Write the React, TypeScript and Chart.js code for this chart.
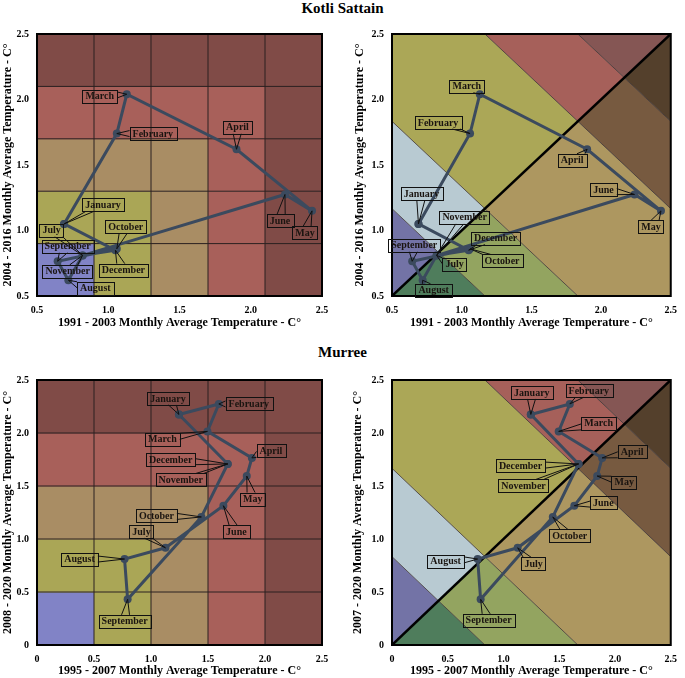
import React, { useEffect, useRef } from "react";
import { Chart, registerables } from "chart.js";
Chart.register(...registerables);

// ---------- data ----------
const MONTHS = ["January", "February", "March", "April", "May", "June", "July", "August", "September", "October", "November", "December"];

const KOTLI_X = [0.69, 1.06, 1.13, 1.90, 2.43, 2.24, 0.82, 0.72, 0.645, 1.06, 0.82, 1.05];
const KOTLI_Y = [1.05, 1.74, 2.04, 1.62, 1.15, 1.275, 0.81, 0.62, 0.765, 0.86, 0.81, 0.85];

const MURREE_X = [1.245, 1.595, 1.495, 1.885, 1.84, 1.635, 1.127, 0.768, 0.795, 1.442, 1.673, 1.673];
const MURREE_Y = [2.175, 2.274, 2.015, 1.765, 1.594, 1.314, 0.917, 0.811, 0.431, 1.208, 1.708, 1.708];

const KOTLI_TICKS = [0.5, 1, 1.5, 2, 2.5];
const MURREE_TICKS = [0, 0.5, 1, 1.5, 2, 2.5];
const KOTLI_GRID = [0.5, 0.9, 1.3, 1.7, 2.1, 2.5];
const MURREE_GRID = [0, 0.5, 1, 1.5, 2, 2.5];
const BAND_STOPS = [0, 1 / 6, 2 / 6, 4 / 6, 5 / 6, 1];

// ---------- styles ----------
const GRID_COLORS = ["#8183c6", "#aaa656", "#a98d64", "#a8605a", "#804b47"];
const UPPER_COLORS = ["#7373a6", "#b8cad2", "#aba757", "#a6605a", "#855654"];
const LOWER_COLORS = ["#4f7d5c", "#93a460", "#ad9760", "#775a40", "#54402c"];
const LINE_COLOR = "#3b4a5e";
const SERIF = '"Liberation Serif", "Times New Roman", serif';

const OFF_TL = [[39, -19], [36, 0], [-27, 2], [1, -22], [-7, 22], [-5, 26], [-31, -25], [27, 8], [10, -15], [9, -22], [-15, 16], [8, 20]];
const OFF_TR = [[3, -30], [-32, -11], [-13, -8], [-15, 11], [-10, 16], [-31, -5], [18, 9], [11, 10], [2, -16], [32, 12], [28, -38], [27, -12]];
const OFF_BL = [[-11, -16], [30, 0], [-45, 8], [19, -7], [6, 23], [13, 26], [-24, -16], [-45, 0], [-3, 22], [-45, -1], [-47, 16], [-57, -4]];
const OFF_BR = [[1, -22], [19, -13], [40, -8], [30, -6], [27, 6], [29, -3], [16, 16], [-32, 2], [8, 21], [17, 19], [-55, 22], [-58, 2]];

type Panel = {
  kind: "grid" | "band";
  xs: number[];
  ys: number[];
  min: number;
  max: number;
  ticks: number[];
  grid: number[];
  offsets: number[][];
  xTitle: string;
  yTitle: string;
  box: { left: number; top: number; width: number; height: number };
  pad: { left: number; top: number; right: number };
  yWidth: number;
  xHeight: number;
  yTitlePad: number;
  xTitlePad: number;
};

const PANELS: Panel[] = [
  {
    kind: "grid", xs: KOTLI_X, ys: KOTLI_Y, min: 0.5, max: 2.5, ticks: KOTLI_TICKS, grid: KOTLI_GRID, offsets: OFF_TL,
    xTitle: "1991 - 2003 Monthly Average Temperature - C°", yTitle: "2004 - 2016 Monthly Average Temperature - C°",
    box: { left: 0, top: 20, width: 342, height: 320 }, pad: { left: 0, top: 13, right: 20 }, yWidth: 37, xHeight: 44, yTitlePad: 1, xTitlePad: 10,
  },
  {
    kind: "band", xs: KOTLI_X, ys: KOTLI_Y, min: 0.5, max: 2.5, ticks: KOTLI_TICKS, grid: KOTLI_GRID, offsets: OFF_TR,
    xTitle: "1991 - 2003 Monthly Average Temperature - C°", yTitle: "2004 - 2016 Monthly Average Temperature - C°",
    box: { left: 343, top: 20, width: 342, height: 320 }, pad: { left: 0, top: 12, right: 10 }, yWidth: 49, xHeight: 44, yTitlePad: 10, xTitlePad: 10,
  },
  {
    kind: "grid", xs: MURREE_X, ys: MURREE_Y, min: 0, max: 2.5, ticks: MURREE_TICKS, grid: MURREE_GRID, offsets: OFF_BL,
    xTitle: "1995 - 2007 Monthly Average Temperature - C°", yTitle: "2008 - 2020 Monthly Average Temperature - C°",
    box: { left: 0, top: 345, width: 342, height: 333 }, pad: { left: 0, top: 35, right: 20 }, yWidth: 37, xHeight: 33, yTitlePad: 1, xTitlePad: 0,
  },
  {
    kind: "band", xs: MURREE_X, ys: MURREE_Y, min: 0, max: 2.5, ticks: MURREE_TICKS, grid: MURREE_GRID, offsets: OFF_BR,
    xTitle: "1995 - 2007 Monthly Average Temperature - C°", yTitle: "2007 - 2020 Monthly Average Temperature - C°",
    box: { left: 343, top: 345, width: 342, height: 333 }, pad: { left: 0, top: 35, right: 9 }, yWidth: 49, xHeight: 33, yTitlePad: 8, xTitlePad: 0,
  },
];

function drawBackground(chart: any, p: Panel) {
  const { ctx, chartArea: ca, scales } = chart;
  const xs = scales.x, ys = scales.y;
  const P = (vx: number, vy: number) => [xs.getPixelForValue(vx), ys.getPixelForValue(vy)];
  ctx.save();
  ctx.beginPath();
  ctx.rect(ca.left, ca.top, ca.right - ca.left, ca.bottom - ca.top);
  ctx.clip();
  if (p.kind === "grid") {
    const g = p.grid;
    for (let i = 0; i < g.length - 1; i++) {
      for (let j = 0; j < g.length - 1; j++) {
        const [x0, y0] = P(g[i], g[j]);
        const [x1, y1] = P(g[i + 1], g[j + 1]);
        ctx.fillStyle = GRID_COLORS[Math.max(i, j)];
        ctx.fillRect(Math.min(x0, x1), Math.min(y0, y1), Math.abs(x1 - x0) + 0.5, Math.abs(y1 - y0) + 0.5);
      }
    }
    ctx.strokeStyle = "#2a2020";
    ctx.lineWidth = 1;
    for (const v of g) {
      const [vx] = P(v, p.min);
      const [, vy] = P(p.min, v);
      ctx.beginPath();
      ctx.moveTo(vx, ca.top); ctx.lineTo(vx, ca.bottom);
      ctx.moveTo(ca.left, vy); ctx.lineTo(ca.right, vy);
      ctx.stroke();
    }
  } else {
    const a = p.min, b = p.max;
    const cs = BAND_STOPS.map((t) => 2 * (a + t * (b - a)));
    const sides = [
      { tri: [[a, a], [a, b], [b, b]], colors: UPPER_COLORS },
      { tri: [[a, a], [b, a], [b, b]], colors: LOWER_COLORS },
    ];
    for (const side of sides) {
      ctx.save();
      ctx.beginPath();
      side.tri.forEach(([vx, vy], k) => {
        const [px, py] = P(vx, vy);
        if (k === 0) ctx.moveTo(px, py); else ctx.lineTo(px, py);
      });
      ctx.closePath();
      ctx.clip();
      for (let k = 0; k < side.colors.length; k++) {
        const c1 = k === 0 ? cs[0] - 1 : cs[k];
        const c2 = k === side.colors.length - 1 ? cs[k + 1] + 1 : cs[k + 1];
        const pts = [[a - 2, c1 - a + 2], [b + 2, c1 - b - 2], [b + 2, c2 - b - 2], [a - 2, c2 - a + 2]];
        ctx.beginPath();
        pts.forEach(([vx, vy], q) => {
          const [px, py] = P(vx, vy);
          if (q === 0) ctx.moveTo(px, py); else ctx.lineTo(px, py);
        });
        ctx.closePath();
        ctx.fillStyle = side.colors[k];
        ctx.fill();
      }
      ctx.restore();
    }
    ctx.strokeStyle = "#3a3030";
    ctx.lineWidth = 0.8;
    for (let k = 1; k < cs.length - 1; k++) {
      const c = cs[k];
      const [x0, y0] = P(a - 2, c - a + 2);
      const [x1, y1] = P(b + 2, c - b - 2);
      ctx.beginPath();
      ctx.moveTo(x0, y0); ctx.lineTo(x1, y1);
      ctx.stroke();
    }
    const [d0x, d0y] = P(a, a);
    const [d1x, d1y] = P(b, b);
    ctx.strokeStyle = "#000";
    ctx.lineWidth = 2.5;
    ctx.beginPath();
    ctx.moveTo(d0x, d0y); ctx.lineTo(d1x, d1y);
    ctx.stroke();
  }
  ctx.restore();
  ctx.save();
  ctx.strokeStyle = "#000";
  ctx.lineWidth = 2;
  ctx.strokeRect(ca.left, ca.top, ca.right - ca.left, ca.bottom - ca.top);
  ctx.restore();
}

function drawLabels(chart: any, p: Panel) {
  const { ctx, scales } = chart;
  ctx.save();
  ctx.font = `bold 10px ${SERIF}`;
  ctx.textAlign = "center";
  ctx.textBaseline = "middle";
  ctx.strokeStyle = "#111";
  ctx.lineWidth = 1;
  for (let i = 0; i < MONTHS.length; i++) {
    const tx = scales.x.getPixelForValue(p.xs[i]);
    const ty = scales.y.getPixelForValue(p.ys[i]);
    const [dx, dy] = p.offsets[i];
    const cx = tx + dx, cy = ty + dy;
    const w = ctx.measureText(MONTHS[i]).width + 6;
    const h = 13;
    const hw = w / 2, hh = h / 2;
    ctx.strokeRect(Math.round(cx - hw) + 0.5, Math.round(cy - hh) + 0.5, Math.round(w), h);
    ctx.fillStyle = "#1a1410";
    ctx.fillText(MONTHS[i], cx, cy + 0.5);
    const ddx = tx - cx, ddy = ty - cy;
    if (Math.abs(ddx) > hw || Math.abs(ddy) > hh) {
      let p1: number[], p2: number[];
      if (Math.abs(ddx) / hw > Math.abs(ddy) / hh) {
        const ax = cx + Math.sign(ddx) * hw;
        const ay = Math.max(cy - hh + 3, Math.min(cy + hh - 3, cy + (ddy * hw) / Math.abs(ddx)));
        p1 = [ax, ay - 3]; p2 = [ax, ay + 3];
      } else {
        const ay = cy + Math.sign(ddy) * hh;
        const ax = Math.max(cx - hw + 5, Math.min(cx + hw - 5, cx + (ddx * hh) / Math.abs(ddy)));
        p1 = [ax - 4, ay]; p2 = [ax + 4, ay];
      }
      ctx.beginPath();
      ctx.moveTo(p1[0], p1[1]);
      ctx.lineTo(tx, ty);
      ctx.lineTo(p2[0], p2[1]);
      ctx.stroke();
    }
  }
  ctx.restore();
}

function PanelChart({ p }: { p: Panel }) {
  const ref = useRef<HTMLCanvasElement | null>(null);
  useEffect(() => {
    if (!ref.current) return;
    const pts = p.xs.map((x, i) => ({ x, y: p.ys[i] }));
    const loop = [...pts, pts[0]];
    const tickFont = { family: SERIF, weight: "bold" as const, size: 10 };
    const titleFont = { family: SERIF, weight: "bold" as const, size: 12 };
    const chart = new Chart(ref.current, {
      type: "scatter",
      data: {
        datasets: [
          {
            data: loop,
            showLine: true,
            borderColor: LINE_COLOR,
            backgroundColor: LINE_COLOR,
            borderWidth: 3,
            pointRadius: 4,
            pointBackgroundColor: LINE_COLOR,
            pointBorderColor: LINE_COLOR,
            pointBorderWidth: 0,
            tension: 0,
          },
        ],
      },
      options: {
        responsive: false,
        animation: false,
        events: [],
        layout: { padding: { left: p.pad.left, top: p.pad.top, right: p.pad.right, bottom: 0 } },
        plugins: { legend: { display: false }, tooltip: { enabled: false }, title: { display: false } },
        scales: {
          x: {
            type: "linear",
            min: p.min,
            max: p.max,
            grid: { display: false, drawTicks: false },
            border: { display: false },
            ticks: { font: tickFont, color: "#000", padding: 8, maxRotation: 0 },
            afterBuildTicks: (s: any) => { s.ticks = p.ticks.map((v) => ({ value: v })); },
            afterFit: (s: any) => { s.height = p.xHeight; },
            title: { display: true, text: p.xTitle, font: titleFont, color: "#000", padding: { top: 0, bottom: p.xTitlePad } },
          },
          y: {
            type: "linear",
            min: p.min,
            max: p.max,
            grid: { display: false, drawTicks: false },
            border: { display: false },
            ticks: { font: tickFont, color: "#000", padding: 8 },
            afterBuildTicks: (s: any) => { s.ticks = p.ticks.map((v) => ({ value: v })); },
            afterFit: (s: any) => { s.width = p.yWidth; },
            title: { display: true, text: p.yTitle, font: titleFont, color: "#000", padding: { top: p.yTitlePad, bottom: 0 } },
          },
        },
      } as any,
      plugins: [
        {
          id: "bg",
          beforeDatasetsDraw: (c: any) => drawBackground(c, p),
          afterDatasetsDraw: (c: any) => drawLabels(c, p),
        },
      ],
    });
    return () => chart.destroy();
  }, [p]);
  return (
    <canvas
      ref={ref}
      width={p.box.width}
      height={p.box.height}
      style={{ position: "absolute", left: p.box.left, top: p.box.top, width: p.box.width, height: p.box.height }}
    />
  );
}

export default function App() {
  const titleStyle: React.CSSProperties = {
    position: "absolute",
    left: 0,
    width: 685,
    textAlign: "center",
    fontFamily: SERIF,
    fontWeight: "bold",
    fontSize: 15,
    lineHeight: "17px",
    color: "#000",
  };
  return (
    <div style={{ position: "fixed", left: 0, top: 0, width: 685, height: 678, background: "#fff", overflow: "hidden" }}>
      <div style={{ ...titleStyle, top: 0 }}>Kotli Sattain</div>
      <div style={{ ...titleStyle, top: 344 }}>Murree</div>
      {PANELS.map((p, i) => (
        <PanelChart key={i} p={p} />
      ))}
    </div>
  );
}
